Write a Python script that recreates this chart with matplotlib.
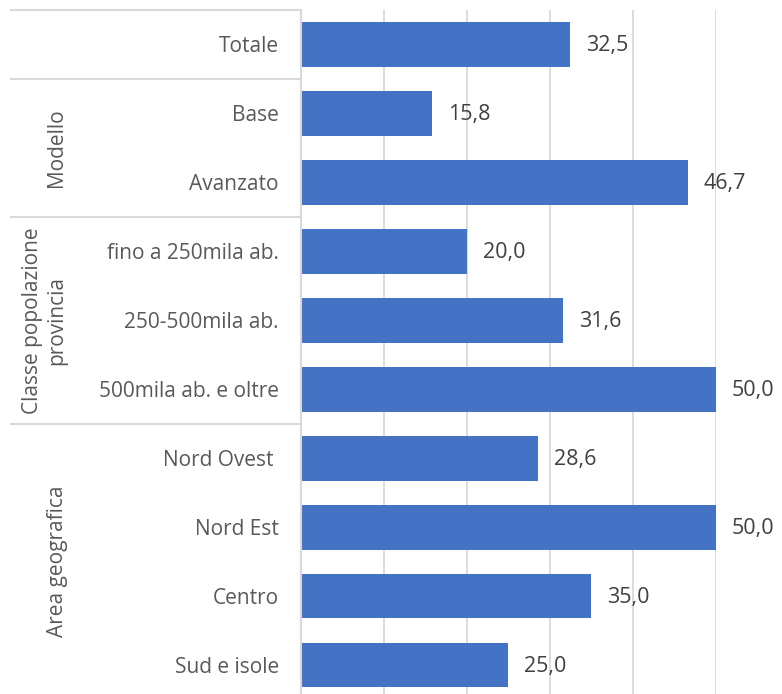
import matplotlib.pyplot as plt
from matplotlib.transforms import blended_transform_factory

categorie = ['Totale', 'Base', 'Avanzato', 'fino a 250mila ab.', '250-500mila ab.',
             '500mila ab. e oltre', 'Nord Ovest ', 'Nord Est', 'Centro', 'Sud e isole']
valori = [32.5, 15.8, 46.7, 20.0, 31.6, 50.0, 28.6, 50.0, 35.0, 25.0]
gruppi = ['Modello', 'Classe popolazione\nprovincia', 'Area geografica']
gruppi_righe = [(1, 2), (3, 5), (6, 9)]

plt.rcParams['font.family'] = ['Open Sans', 'DejaVu Sans']

W, H = 782, 694
fig = plt.figure(figsize=(W / 100, H / 100), dpi=100)
ax = fig.add_axes([301 / W, 1 - 699.5 / H, (715.5 - 301) / W, (699.5 - 10) / H])

pos = list(range(len(categorie)))
ax.barh(pos, valori, height=0.65, color='#4472C4', zorder=2)
ax.set_ylim(len(categorie) - 0.5, -0.5)
ax.set_xlim(0, 50)

for p, v in zip(pos, valori):
    ax.text(v + 1.9, p + 0.02, f'{v:.1f}'.replace('.', ','), va='center', ha='left',
            fontsize=15.5, color='#404040', clip_on=False)

ax.set_yticks(pos, categorie, fontsize=15, color='#595959')
ax.tick_params(axis='y', length=0, pad=16)
ax.set_xticks([0, 10, 20, 30, 40, 50])
ax.tick_params(axis='x', length=0, labelbottom=False)
ax.grid(axis='x', color='#D9D9D9', linewidth=1.3)
ax.set_axisbelow(True)
for s in ['top', 'right', 'bottom']:
    ax.spines[s].set_visible(False)
ax.spines['left'].set_color('#D9D9D9')
ax.spines['left'].set_linewidth(1.5)

# separatori e titoli dei gruppi a sinistra
tr = blended_transform_factory(fig.transFigure, ax.transData)
for yb in [-0.5, 0.5, 2.5, 5.5]:
    ax.plot([11 / W, 301 / W], [yb, yb], transform=tr, color='#D9D9D9',
            linewidth=1.5, clip_on=False)
for nome, (a, b), xc in zip(gruppi, gruppi_righe, [57, 45, 57]):
    ax.text(xc / W, (a + b) / 2, nome, transform=tr, rotation=90, ha='center',
            va='center', fontsize=15, color='#595959', multialignment='center')

fig.savefig('out.png', dpi=100)
